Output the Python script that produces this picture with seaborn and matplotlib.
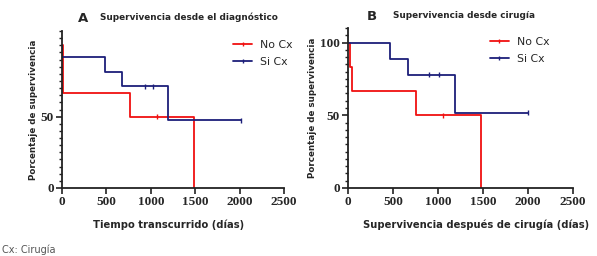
import numpy as np
import pandas as pd
import matplotlib
matplotlib.use('Agg')
import matplotlib.pyplot as plt
from matplotlib.lines import Line2D
from matplotlib.ticker import MultipleLocator
import seaborn as sns

# Panel A - survival from diagnosis (days, percent)
a_no_t = [0, 15, 765, 1485, 1485]
a_no_s = [100, 66.7, 50, 0, 0]
a_no_cens_t = [1065]
a_no_cens_s = [50]
a_si_t = [0, 5, 487, 675, 1196, 2013]
a_si_s = [100, 91.7, 81.5, 71.3, 47.5, 47.5]
a_si_cens_t = [934, 1027, 2013]
a_si_cens_s = [71.3, 71.3, 47.5]

# Panel B - survival after surgery
b_no_t = [0, 18, 45, 759, 1481, 1481]
b_no_s = [100, 83.3, 66.7, 50, 0, 0]
b_no_cens_t = [1055]
b_no_cens_s = [50]
b_si_t = [0, 470, 662, 1192, 1996]
b_si_s = [100, 88.9, 77.8, 51.9, 51.9]
b_si_cens_t = [896, 1015, 1996]
b_si_cens_s = [77.8, 77.8, 51.9]

groups = ['No Cx', 'Si Cx']
colors = {'No Cx': '#f01010', 'Si Cx': '#1c1f7a'}

sns.set_style('white')
plt.rcParams['font.family'] = ['DejaVu Sans']

fig = plt.figure(figsize=(5.97, 2.56), dpi=100)
axA = fig.add_axes([62/597, 68/256, 222/597, 157/256])
axB = fig.add_axes([348/597, 68/256, 225/597, 160/256])

def km_frame(t, s, g):
    return pd.DataFrame({'t': t, 's': s, 'g': g})

def draw(ax, curves, cens, yticks, xlabel, leg_x, xlab_x):
    df = pd.concat([km_frame(t, s, g) for (t, s, g) in curves])
    sns.lineplot(data=df, x='t', y='s', hue='g', palette=colors, drawstyle='steps-post',
                 estimator=None, sort=False, linewidth=1.3, legend=False, ax=ax)
    cdf = pd.concat([km_frame(t, s, g) for (t, s, g) in cens])
    sns.scatterplot(data=cdf, x='t', y='s', hue='g', palette=colors, marker='|', s=12,
                    linewidth=1.0, legend=False, ax=ax, zorder=3)
    ax.set_xlim(0, 2500)
    ax.set_ylim(0, 110)
    ax.set_xticks([0, 500, 1000, 1500, 2000, 2500])
    ax.set_yticks(yticks)
    ax.yaxis.set_minor_locator(MultipleLocator(5))
    ax.tick_params(axis='both', which='major', direction='out', length=4, width=1.2,
                   color='#222222', pad=2, left=True, bottom=True)
    ax.tick_params(axis='y', which='minor', direction='out', length=2.5, width=1.0,
                   color='#222222', left=True)
    for lab in ax.get_xticklabels() + ax.get_yticklabels():
        lab.set_family('Liberation Serif')
        lab.set_fontweight('bold')
        lab.set_fontsize(9.5)
    for sp in ['top', 'right']:
        ax.spines[sp].set_visible(False)
    for sp in ['left', 'bottom']:
        ax.spines[sp].set_linewidth(1.3)
        ax.spines[sp].set_color('#222222')
    ax.set_xlabel(xlabel, fontsize=7.2, fontweight='bold')
    ax.xaxis.set_label_coords(xlab_x, -0.2)
    ax.set_ylabel('Porcentaje de supervivencia', fontsize=6.3, fontweight='bold', labelpad=2)
    handles = [Line2D([0], [0], color=colors[g], lw=1.3, marker='|', markersize=3,
                      markevery=[1]) for g in groups]
    ax.legend(handles, groups, loc='upper left', bbox_to_anchor=(leg_x, 0.97),
              frameon=False, fontsize=7.8, handlelength=1.8, labelspacing=0.65,
              handletextpad=0.7, borderaxespad=0)
    return ax

draw(axA,
     [(a_no_t, a_no_s, 'No Cx'), (a_si_t, a_si_s, 'Si Cx')],
     [(a_no_cens_t, a_no_cens_s, 'No Cx'), (a_si_cens_t, a_si_cens_s, 'Si Cx')],
     [0, 50], 'Tiempo transcurrido (días)', 0.75, 0.48)
draw(axB,
     [(b_no_t, b_no_s, 'No Cx'), (b_si_t, b_si_s, 'Si Cx')],
     [(b_no_cens_t, b_no_cens_s, 'No Cx'), (b_si_cens_t, b_si_cens_s, 'Si Cx')],
     [0, 50, 100], 'Supervivencia después de cirugía (días)', 0.61, 0.57)

fig.text(78/597, 1 - 18/256, 'A', fontsize=9.5, fontweight='bold', va='center', ha='left')
fig.text(100/597, 1 - 17/256, 'Supervivencia desde el diagnóstico', fontsize=6.4,
         fontweight='bold', va='center', ha='left')
fig.text(367/597, 1 - 16/256, 'B', fontsize=9.5, fontweight='bold', va='center', ha='left')
fig.text(393/597, 1 - 15/256, 'Supervivencia desde cirugía', fontsize=6.4,
         fontweight='bold', va='center', ha='left')
fig.text(2/597, 1 - 250/256, 'Cx: Cirugía', fontsize=7, color='#555555', va='center', ha='left')

fig.savefig('out.png', dpi=100)
